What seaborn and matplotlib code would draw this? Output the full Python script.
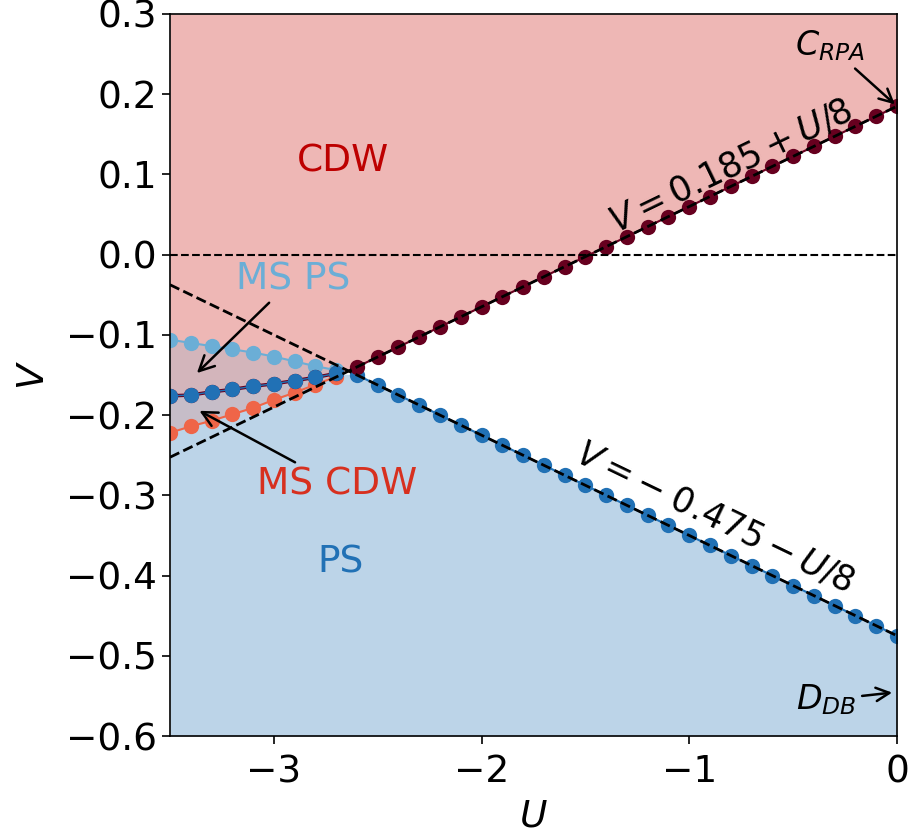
import numpy as np
import pandas as pd
import seaborn as sns
import matplotlib.pyplot as plt

# boundary points
U_main = [-2.6, -2.5, -2.4, -2.3, -2.2, -2.1, -2.0, -1.9, -1.8, -1.7, -1.6, -1.5, -1.4,
          -1.3, -1.2, -1.1, -1.0, -0.9, -0.8, -0.7, -0.6, -0.5, -0.4, -0.3, -0.2, -0.1, 0.0]
V_cdw = [-0.140, -0.1275, -0.115, -0.1025, -0.090, -0.0775, -0.065, -0.0525, -0.040,
         -0.0275, -0.015, -0.0025, 0.010, 0.0225, 0.035, 0.0475, 0.060, 0.0725, 0.085,
         0.0975, 0.110, 0.1225, 0.135, 0.1475, 0.160, 0.1725, 0.185]
V_ps = [-0.150, -0.1625, -0.175, -0.1875, -0.200, -0.2125, -0.225, -0.2375, -0.250,
        -0.2625, -0.275, -0.2875, -0.300, -0.3125, -0.325, -0.3375, -0.350, -0.3625,
        -0.375, -0.3875, -0.400, -0.4125, -0.425, -0.4375, -0.450, -0.4625, -0.475]

U_ms = [-3.5, -3.4, -3.3, -3.2, -3.1, -3.0, -2.9, -2.8, -2.7]
V_ms_ps = [-0.106, -0.110, -0.114, -0.118, -0.122, -0.127, -0.133, -0.139, -0.144]
V_ms_mid = [-0.176, -0.175, -0.171, -0.168, -0.164, -0.161, -0.157, -0.153, -0.148]
V_ms_cdw = [-0.222, -0.214, -0.207, -0.199, -0.191, -0.181, -0.172, -0.162, -0.152]

# guide lines V = a + b U
guide_a = [0.185, -0.475]
guide_b = [1 / 8, -1 / 8]

dark_red = "#67001f"
blue = "#2171b5"
light_blue = "#6baed6"
orange = "#ef6548"
fill_red = "#c8120a"

sns.set_style("ticks")
plt.rcParams["font.family"] = ["DejaVu Sans"]
plt.rcParams["mathtext.fontset"] = "dejavusans"
for k in ["text.color", "axes.labelcolor", "xtick.color", "ytick.color", "axes.edgecolor"]:
    plt.rcParams[k] = "black"

fig = plt.figure(figsize=(9.11, 8.38), dpi=100)
ax = fig.add_axes([0.1866, 0.1217, 0.798, 0.8616])
ax.set_xlim(-3.5, 0)
ax.set_ylim(-0.6, 0.3)

# phase regions
U_red = U_ms + U_main
ax.fill_between(U_red, V_ms_mid + V_cdw, 0.3, color=fill_red, alpha=0.3, lw=0)
ax.fill_between(U_red, -0.6, V_ms_mid + V_ps, color=blue, alpha=0.3, lw=0)
ax.fill_between(U_ms, V_ms_mid, V_ms_ps, color=light_blue, alpha=0.2, lw=0)
ax.fill_between(U_ms, V_ms_cdw, V_ms_mid, color=orange, alpha=0.2, lw=0)

kw = dict(marker="o", markersize=11, markeredgewidth=0, lw=1.5, sort=False, ax=ax)
sns.lineplot(x=U_main, y=V_ps, color=blue, **kw)
sns.lineplot(x=U_main, y=V_cdw, color=dark_red, **kw)
sns.lineplot(x=U_ms, y=V_ms_ps, color=light_blue, **kw)
sns.lineplot(x=U_ms, y=V_ms_cdw, color=orange, **kw)
sns.lineplot(x=U_ms, y=V_ms_mid, color=dark_red, marker="o", markersize=11,
             markeredgewidth=0, lw=2.5, sort=False, ax=ax)
sns.lineplot(x=U_ms, y=V_ms_mid, color=blue, marker="o", markersize=11,
             markeredgewidth=0, lw=1.0, sort=False, ax=ax)

for a, b in zip(guide_a, guide_b):
    ax.axline((0, a), slope=b, color="black", ls="--", lw=2, zorder=5)
ax.axhline(0, color="black", ls="--", lw=1.5, zorder=5)

fs = 27
ax.set_xticks([-3, -2, -1, 0])
ax.set_yticks(np.round(np.arange(-0.6, 0.31, 0.1), 1))
ax.tick_params(labelsize=fs, length=6, width=1.2, direction="out")
ax.tick_params(axis="x", pad=7)
ax.set_xlabel("$U$", fontsize=fs, labelpad=6)
ax.set_ylabel("$V$", fontsize=fs, labelpad=10)
for s in ax.spines.values():
    s.set_linewidth(1.2)

ax.text(-2.667, 0.116, "CDW", color="#bd0000", fontsize=fs, ha="center", va="center")
ax.text(-2.677, -0.384, "PS", color=blue, fontsize=fs, ha="center", va="center")
arrow = dict(arrowstyle="->", color="black", lw=1.8)
ax.annotate("MS PS", xy=(-3.38, -0.150), xytext=(-2.908, -0.031), color=light_blue,
            fontsize=fs, ha="center", va="center", arrowprops=arrow)
ax.annotate("MS CDW", xy=(-3.37, -0.193), xytext=(-2.696, -0.287), color="#d7301f",
            fontsize=fs, ha="center", va="center", arrowprops=arrow)
ax.annotate("$C_{RPA}$", xy=(0, 0.185), xytext=(-0.322, 0.260), fontsize=24,
            ha="center", va="center", arrowprops=arrow)
ax.annotate("$D_{DB}$", xy=(-0.01, -0.5455), xytext=(-0.342, -0.555), fontsize=24,
            ha="center", va="center", arrowprops=arrow)

ang = ax.transData.transform_angles([np.degrees(np.arctan(1 / 8))],
                                    np.array([[-0.8, 0.11]]))[0]
ax.text(-0.8, 0.11, "$V = 0.185 + U/8$", fontsize=25, rotation=ang,
        rotation_mode="anchor", ha="center", va="center")
ax.text(-0.876, -0.327, r"$V = -\;0.475 - U/8$", fontsize=25, rotation=-ang,
        rotation_mode="anchor", ha="center", va="center")

fig.savefig("out.png", dpi=100)
